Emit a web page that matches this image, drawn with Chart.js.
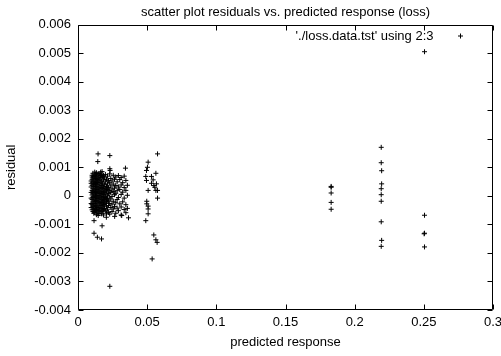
<!DOCTYPE html>
<html>
<head>
<meta charset="utf-8">
<script src="https://cdn.jsdelivr.net/npm/chart.js@4"></script>
<style>
html, body { margin: 0; padding: 0; background: #fff; }
</style>
</head>
<body>
<canvas id="myChart" width="501" height="356"></canvas>
<script>
//Dados - resíduos vs. resposta prevista
const titleText = 'scatter plot residuals vs. predicted response (loss)';
const seriesLabel = "'./loss.data.tst' using 2:3";
const xTitle = 'predicted response';
const yTitle = 'residual';

// dense cluster, one entry per predicted value column: [x, [residuals]]
const clusterColumns = [
    [0.0095, [0.00052, 0.00031, 0.00012, -0.00008, -0.00027, 0.00044, -0.00041]],
    [0.0102, [0.00072, 0.00058, 0.00037, 0.00019, 0.00003, -0.00013, -0.00031, -0.00049, 0.00066]],
    [0.0108, [0.00079, 0.00063, 0.00046, 0.00025, 0.00009, -0.00006, -0.00022, -0.00038, -0.00055, 0.00014]],
    [0.0114, [0.00068, 0.00051, 0.00033, 0.00017, -0.00002, -0.00018, -0.00035, -0.00047, -0.00061, 0.00041]],
    [0.0121, [0.00083, 0.00071, 0.00055, 0.00039, 0.00021, 0.00006, -0.00011, -0.00027, -0.00044, -0.00058]],
    [0.0127, [0.00076, 0.00061, 0.00043, 0.00028, 0.00012, -0.00004, -0.00019, -0.00033, -0.00052, 0.00002]],
    [0.0133, [0.00081, 0.00066, 0.00049, 0.00032, 0.00015, -0.00001, -0.00016, -0.00036, -0.00048, -0.00066]],
    [0.0139, [0.00073, 0.00057, 0.00038, 0.00022, 0.00007, -0.00009, -0.00025, -0.00041, -0.00057, 0.00047]],
    [0.0146, [0.00078, 0.00062, 0.00045, 0.00027, 0.00011, -0.00005, -0.00021, -0.00039, -0.00053, -0.00069]],
    [0.0152, [0.00069, 0.00053, 0.00034, 0.00018, 0.00001, -0.00014, -0.00029, -0.00046, -0.00062]],
    [0.0158, [0.00077, 0.00059, 0.00041, 0.00024, 0.00008, -0.00008, -0.00024, -0.00042, -0.00051]],
    [0.0165, [0.00071, 0.00048, 0.00029, 0.00013, -0.00003, -0.00019, -0.00034, -0.00056, 0.00064]],
    [0.0171, [0.00074, 0.00052, 0.00036, 0.00016, 0.00004, -0.00012, -0.00028, -0.00045, -0.00063]],
    [0.0178, [0.00067, 0.00044, 0.00026, 0.00009, -0.00007, -0.00023, -0.00039, -0.00054]],
    [0.0184, [0.00072, 0.00056, 0.00031, 0.00014, -0.00002, -0.00017, -0.00032, -0.00049, -0.00067]],
    [0.0191, [0.00063, 0.00039, 0.00021, 0.00005, -0.00013, -0.00031, -0.00044]],
    [0.0198, [0.00075, 0.00049, 0.00027, 0.00011, -0.00006, -0.00026, -0.00052]],
    [0.0206, [0.00058, 0.00033, 0.00017, -0.00009, -0.00021, -0.00038, -0.00061]],
    [0.0213, [0.00069, 0.00042, 0.00023, 0.00002, -0.00015, -0.00047]],
    [0.0221, [0.00054, 0.00029, 0.00008, -0.00018, -0.00034, -0.00058]],
    [0.0229, [0.00077, 0.00046, 0.00019, -0.00004, -0.00027, -0.00064]],
    [0.0237, [0.00061, 0.00035, 0.00012, -0.00011, -0.00041]],
    [0.0246, [0.00052, 0.00024, -0.00002, -0.00029, -0.00055]],
    [0.0255, [0.00072, 0.00041, 0.00015, -0.00019, -0.00046]],
    [0.0264, [0.00058, 0.00027, 0.00004, -0.00037]],
    [0.0273, [0.00066, 0.00036, 0.00009, -0.00024, -0.00061]],
    [0.0283, [0.00049, 0.00018, -0.00013, -0.00043]],
    [0.0292, [0.00071, 0.00031, -0.00006, -0.00052]],
    [0.0302, [0.00057, 0.00022, -0.00028]],
    [0.0312, [0.00064, 0.00038, 0.00005, -0.00039, -0.00067]],
    [0.0323, [0.00046, 0.00013, -0.00021]],
    [0.0334, [0.00069, 0.00029, -0.00008, -0.00048]],
    [0.0346, [0.00054, 0.00019, -0.00031, -0.00059]],
    [0.0357, [0.00037, 0.00002, -0.00044]]
];

// scattered points round the dense cluster
const clusterOutliers = [
    [0.0145, 0.00147], [0.0143, 0.0012], [0.023, 0.00141], [0.0174, 0.00085],
    [0.023, 0.00095], [0.0232, 0.00089], [0.0343, 0.00097], [0.0164, 0.00083],
    [0.0116, -0.00087], [0.0174, -0.00105], [0.0116, -0.00131], [0.014, -0.00145],
    [0.017, -0.00151], [0.023, -0.00317], [0.0365, -0.00077], [0.0316, -0.00069],
    [0.0265, -0.00072], [0.0205, -0.00075]
];

const groupNear05 = [
    [0.0575, 0.00147], [0.0507, 0.00118], [0.0502, 0.001], [0.0495, 0.00089],
    [0.049, 0.00068], [0.0531, 0.00068], [0.0543, 0.00056], [0.0563, 0.00079],
    [0.0531, 0.00044], [0.0548, 0.00036], [0.0555, 0.0003], [0.0567, 0.00042],
    [0.0575, 0.00019], [0.0495, 0.00054], [0.0507, 0.00019], [0.0563, 0.00019],
    [0.0575, -0.00008], [0.0497, -0.00019], [0.0497, -0.00028], [0.0507, -0.00036],
    [0.0507, -0.00046], [0.0507, -0.00063], [0.049, -0.00087], [0.0548, -0.00137],
    [0.0563, -0.00154], [0.0572, -0.00163], [0.0536, -0.00221]
];

const group183 = [
    [0.183, 0.00033], [0.183, 0.0003], [0.183, 0.0001], [0.183, -0.00023], [0.183, -0.00047]
];

const group219 = [
    [0.2192, 0.0017], [0.2192, 0.00116], [0.2195, 0.00088], [0.2195, 0.00042],
    [0.2192, 0.00025], [0.2192, 0.00004], [0.2192, -0.00019], [0.2192, -0.00091],
    [0.2195, -0.00156], [0.2192, -0.00177]
];

const group25 = [
    [0.2505, -0.00068], [0.2505, -0.00131], [0.2502, -0.00133], [0.2505, -0.00179], [0.2505, 0.00505]
];

const points = clusterColumns
    .flatMap(col => col[1].map(y => ({ x: col[0], y: y })))
    .concat([...clusterOutliers, ...groupNear05, ...group183, ...group219, ...group25]
        .map(p => ({ x: p[0], y: p[1] })));

const fontFamily = "'Liberation Sans', Arial, sans-serif";
Chart.defaults.color = '#000';
Chart.defaults.font.family = fontFamily;
Chart.defaults.font.size = 13;

// gnuplot-like frame: border, inward ticks on all four sides, key in the corner
const framePlugin = {
    id: 'frame',
    afterDatasetsDraw(chart) {
        const { ctx, chartArea: a, scales } = chart;
        const L = Math.round(a.left) + 0.5, R = Math.round(a.right) - 0.5;
        const T = Math.round(a.top) + 0.5, B = Math.round(a.bottom) - 0.5;
        const len = 5;
        ctx.save();
        ctx.strokeStyle = '#000';
        ctx.lineWidth = 1;
        ctx.beginPath();
        ctx.rect(L, T, R - L, B - T);
        scales.x.ticks.forEach(t => {
            const px = Math.round(scales.x.getPixelForValue(t.value)) + 0.5;
            ctx.moveTo(px, B); ctx.lineTo(px, B - len);
            ctx.moveTo(px, T); ctx.lineTo(px, T + len);
        });
        scales.y.ticks.forEach(t => {
            const py = Math.round(scales.y.getPixelForValue(t.value)) + 0.5;
            ctx.moveTo(L, py); ctx.lineTo(L + len, py);
            ctx.moveTo(R, py); ctx.lineTo(R - len, py);
        });
        ctx.stroke();

        // key
        const ky = T + 10.5;
        ctx.fillStyle = '#000';
        ctx.font = '13px ' + fontFamily;
        ctx.textAlign = 'right';
        ctx.textBaseline = 'middle';
        ctx.fillText(seriesLabel, R - 59, ky);
        const kx = R - 32;
        ctx.beginPath();
        ctx.moveTo(kx - 2.5, ky); ctx.lineTo(kx + 2.5, ky);
        ctx.moveTo(kx, ky - 2.5); ctx.lineTo(kx, ky + 2.5);
        ctx.stroke();
        ctx.restore();
    }
};

const fmt = v => String(+v.toFixed(4));

new Chart(document.getElementById('myChart'), {
    type: 'scatter',
    data: {
        datasets: [{
            label: seriesLabel,
            data: points,
            pointStyle: 'cross',
            radius: 2.5,
            hoverRadius: 2.5,
            borderWidth: 1,
            borderColor: '#000',
            backgroundColor: '#000'
        }]
    },
    options: {
        responsive: false,
        animation: false,
        events: [],
        layout: { padding: { top: 0, right: 8, bottom: 0, left: 0 } },
        plugins: {
            legend: { display: false },
            tooltip: { enabled: false },
            title: {
                display: true,
                fullSize: false,
                text: titleText,
                color: '#000',
                font: { size: 13, weight: 'normal', lineHeight: 1.2 },
                padding: { top: 5, bottom: 4 }
            }
        },
        scales: {
            x: {
                type: 'linear',
                min: 0,
                max: 0.3,
                ticks: { stepSize: 0.05, padding: 5, maxRotation: 0, callback: fmt },
                grid: { display: false, drawTicks: false },
                border: { display: false },
                title: { display: true, text: xTitle, padding: { top: 0, bottom: 6 } },
                afterFit(scale) {
                    scale.height = 46;
                    scale.paddingLeft = 0;
                    scale.paddingRight = 0;
                }
            },
            y: {
                type: 'linear',
                min: -0.004,
                max: 0.006,
                ticks: { stepSize: 0.001, padding: 7, callback: fmt },
                grid: { display: false, drawTicks: false },
                border: { display: false },
                title: { display: true, text: yTitle, padding: { top: 4, bottom: 0 } },
                afterFit(scale) {
                    scale.width = 78;
                    scale.paddingTop = 0;
                    scale.paddingBottom = 0;
                }
            }
        }
    },
    plugins: [framePlugin]
});
</script>
</body>
</html>
